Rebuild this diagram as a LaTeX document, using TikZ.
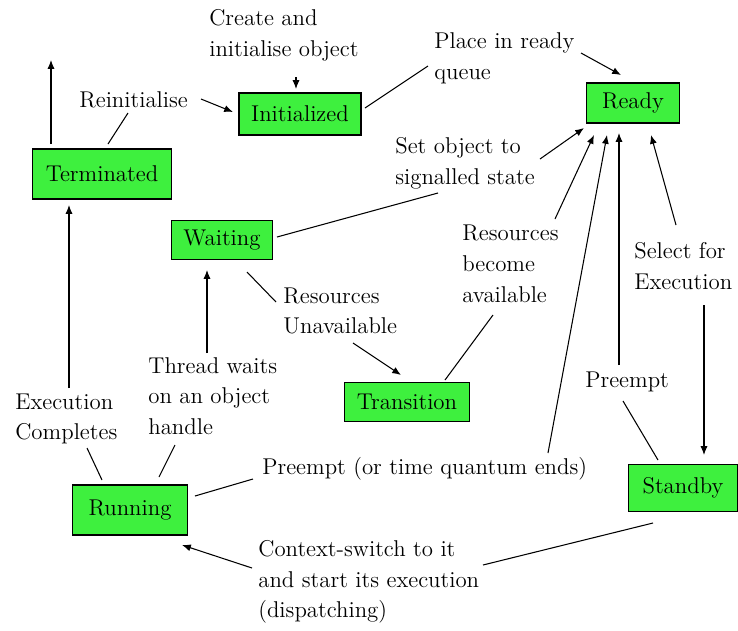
\documentclass[tikz,border=0pt]{standalone}
\usetikzlibrary{arrows.meta}
\definecolor{boxgreen}{RGB}{62,240,62}

\begin{document}
\begin{tikzpicture}[x=0.02cm, y=-0.02cm, font=\fontsize{13}{17.5}\selectfont,
  statebox/.style={draw, fill=boxgreen, line width=0.9pt, inner sep=0pt},
  note/.style={align=left, anchor=west, inner sep=0pt},
  link/.style={line width=0.6pt},
  arr/.style={line width=0.6pt, -{Latex[length=5pt,width=4pt]}}]
  \useasboundingbox (0,0) rectangle (738,630);
  % states
  \node[statebox, minimum width=2.44cm, minimum height=0.84cm] (init) at (300,114) {Initialized};
  \node[statebox, minimum width=1.86cm, minimum height=0.80cm] (ready) at (633,103) {Ready};
  \node[statebox, minimum width=2.78cm, minimum height=1.00cm] (term) at (102,174) {Terminated};
  \node[statebox, minimum width=2.02cm, minimum height=0.78cm] (wait) at (222,240) {Waiting};
  \node[statebox, minimum width=2.50cm, minimum height=0.78cm] (trans) at (407,402) {Transition};
  \node[statebox, minimum width=2.30cm, minimum height=1.00cm] (run) at (130,510) {Running};
  \node[statebox, minimum width=2.18cm, minimum height=0.94cm] (stand) at (683,488) {Standby};
  % labels
  \node[note] (create) at (209,35) {Create and\\initialise object};
  \node[note] (reinit) at (79,100) {Reinitialise};
  \node[note] (place) at (434,58) {Place in ready\\queue};
  \node[note] (setobj) at (395,163) {Set object to\\signalled state};
  \node[note] (resunav) at (283,311) {Resources\\Unavailable};
  \node[note] (resav) at (462,264) {Resources\\become\\available};
  \node[note] (select) at (634,266) {Select for\\Execution};
  \node[note] (preemptA) at (585,382) {Preempt};
  \node[note] (thread) at (148,396) {Thread waits\\on an object\\handle};
  \node[note] (execc) at (15,419) {Execution\\Completes};
  \node[note] (preemptB) at (262,469) {Preempt (or time quantum ends)};
  \node[note] (context) at (258,582) {Context-switch to it\\and start its execution\\(dispatching)};
  % end points
  \coordinate (c1) at (296,77);
  \coordinate (c2) at (296,89);
  \coordinate (r1) at (201,99);
  \coordinate (r2) at (233,112);
  \coordinate (r3) at (128,113);
  \coordinate (r4) at (108,144);
  \coordinate (t1) at (51,144);
  \coordinate (t2) at (51,60);
  \coordinate (i1) at (365,108);
  \coordinate (p1) at (428,66);
  \coordinate (p2) at (581,53);
  \coordinate (p3) at (621,75);
  \coordinate (s1) at (540,159);
  \coordinate (s2) at (584,128);
  \coordinate (s3) at (438,193);
  \coordinate (w1) at (277,237);
  \coordinate (w2) at (247,272);
  \coordinate (w3) at (276,302);
  \coordinate (u1) at (353,343);
  \coordinate (u2) at (401,375);
  \coordinate (a1) at (445,380);
  \coordinate (a2) at (493,315);
  \coordinate (a3) at (555,219);
  \coordinate (a4) at (594,135);
  \coordinate (q1) at (548,453);
  \coordinate (q2) at (607,135);
  \coordinate (e1) at (619,365);
  \coordinate (e2) at (619,133);
  \coordinate (e3) at (623,401);
  \coordinate (e4) at (658,460);
  \coordinate (x1) at (676,225);
  \coordinate (x2) at (651,135);
  \coordinate (x3) at (704,305);
  \coordinate (x4) at (704,455);
  \coordinate (h1) at (207,353);
  \coordinate (h2) at (207,270);
  \coordinate (h3) at (175,445);
  \coordinate (h4) at (159,477);
  \coordinate (k1) at (69,388);
  \coordinate (k2) at (69,205);
  \coordinate (k3) at (87,448);
  \coordinate (k4) at (102,480);
  \coordinate (m1) at (195,496);
  \coordinate (m2) at (253,479);
  \coordinate (d1) at (252,568);
  \coordinate (d2) at (182,545);
  \coordinate (d3) at (483,565);
  \coordinate (d4) at (653,523);
  % connectors
  \draw[arr] (c1) -- (c2);
  \draw[arr] (r1) -- (r2);
  \draw[link] (r3) -- (r4);
  \draw[arr] (t1) -- (t2);
  \draw[link] (i1) -- (p1);
  \draw[arr] (p2) -- (p3);
  \draw[arr] (s1) -- (s2);
  \draw[link] (w1) -- (s3);
  \draw[link] (w2) -- (w3);
  \draw[arr] (u1) -- (u2);
  \draw[link] (a1) -- (a2);
  \draw[arr] (a3) -- (a4);
  \draw[arr] (q1) -- (q2);
  \draw[arr] (e1) -- (e2);
  \draw[link] (e3) -- (e4);
  \draw[arr] (x1) -- (x2);
  \draw[arr] (x3) -- (x4);
  \draw[arr] (h1) -- (h2);
  \draw[link] (h3) -- (h4);
  \draw[arr] (k1) -- (k2);
  \draw[link] (k3) -- (k4);
  \draw[link] (m1) -- (m2);
  \draw[arr] (d1) -- (d2);
  \draw[link] (d3) -- (d4);
\end{tikzpicture}
\end{document}
